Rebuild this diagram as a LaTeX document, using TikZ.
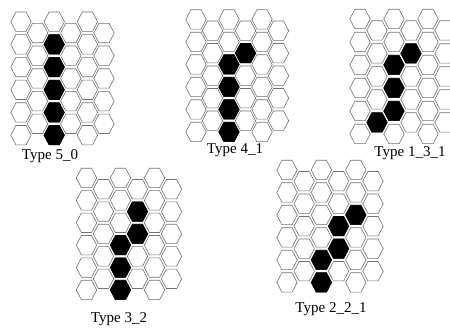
\documentclass[tikz,border=0pt]{standalone}
\usepackage{fontspec}
\setmainfont{Liberation Serif}
\def\ha{10.2}
\def\hb{9.7}
\newcommand\hexat[3]{%
  \path[#3] ({#1},{#2}) ++(-\ha,0) -- ++(\ha/2,-\hb) -- ++(\ha,0) -- ++(\ha/2,\hb)
    -- ++(-\ha/2,\hb) -- ++(-\ha,0) -- cycle;}
\newcommand\hexgrid[4]{%
  \foreach \c in {0,...,5}{%
    \pgfmathsetmacro\cx{#1+\c*#3}%
    \pgfmathtruncatemacro\odd{mod(\c,2)}%
    \ifnum\odd=0
      \foreach \r in {0,...,5}{\hexat{\cx}{#2+\r*#4}{hexw}}%
    \else
      \foreach \r in {0,...,4}{\hexat{\cx}{#2+(\r+0.5)*#4}{hexw}}%
    \fi}}
\newcommand\blackhexes[5]{%
  \foreach \c/\r in {#5}{\hexat{#1+\c*#3}{#2+\r*#4}{hexb}}}
\begin{document}
\begin{tikzpicture}[x=1pt,y=-1pt,
  hexw/.style={draw=black!55,line width=0.6pt,fill=white},
  hexb/.style={draw=black,line width=0.6pt,fill=black},
  lbl/.style={font=\fontsize{15}{17}\selectfont,inner sep=0pt,anchor=center}]
\useasboundingbox (0,0) rectangle (450,328);
\fill[white] (0,0) rectangle (450,328);
% Group 1: Type 5_0
\hexgrid{21}{21.7}{16.6}{22.7}
\blackhexes{21}{21.7}{16.6}{22.7}{2/1,2/2,2/3,2/4,2/5}
\node[lbl] (l50) at (50,156) {Type 5\_0};
% Group 2: Type 4_1
\hexgrid{196}{19.5}{16.5}{22.5}
\blackhexes{196}{19.5}{16.5}{22.5}{2/2,2/3,2/4,2/5,3/1.5}
\node[lbl] (l41) at (235,150) {Type 4\_1};
% Group 3: Type 1_3_1
\hexgrid{360}{19}{17}{23}
\blackhexes{360}{19}{17}{23}{2/2,2/3,2/4,3/1.5,1/4.5}
\node[lbl] (l131) at (410,153) {Type 1\_3\_1};
% Group 4: Type 3_2
\hexgrid{86.5}{178}{17}{22.4}
\blackhexes{86.5}{178}{17}{22.4}{2/3,2/4,2/5,3/1.5,3/2.5}
\node[lbl] (l32) at (119,319) {Type 3\_2};
% Group 5: Type 2_2_1
\hexgrid{287}{170}{17.2}{22.5}
\blackhexes{287}{170}{17.2}{22.5}{2/4,2/5,3/2.5,3/3.5,4/2}
\node[lbl] (l221) at (331,309) {Type 2\_2\_1};
\end{tikzpicture}
\end{document}
